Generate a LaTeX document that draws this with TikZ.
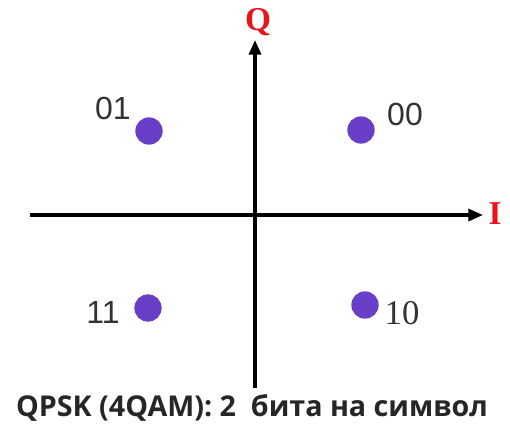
\documentclass[tikz,border=0pt]{standalone}
\usepackage{fontspec}
\setmainfont{Liberation Sans}
\newfontfamily\serifA{Liberation Serif}
\newfontfamily\capfont{Open Sans}
\usetikzlibrary{arrows.meta}
\definecolor{dotc}{HTML}{6A3FC8}
\definecolor{labc}{HTML}{333333}
\definecolor{axred}{HTML}{E8141C}
\tikzset{
  axis/.style={line width=2.4pt, -{Triangle[length=11pt,width=9pt]}},
  pt/.style={circle, fill=dotc, minimum size=20.5pt, inner sep=0pt},
  lab/.style={text=labc, font=\fontsize{24}{26}\selectfont, inner sep=0pt},
  axlab/.style={text=axred, font=\serifA\bfseries\fontsize{25}{27}\selectfont, inner sep=0pt}
}
\begin{document}
\begin{tikzpicture}[x=0.75pt,y=-0.75pt]
\useasboundingbox (0,0) rectangle (510,425);
\coordinate (hl) at (30,215);
\coordinate (hr) at (483,215);
\coordinate (vb) at (255,388);
\coordinate (vt) at (255,40);
\draw[axis] (hl) -- (hr);
\draw[axis] (vb) -- (vt);
\node[axlab] (Q) at (258,22) {Q};
\node[axlab] (I) at (495,214) {I};
\node[pt] (p01) at (149,131) {};
\node[pt] (p00) at (361,130) {};
\node[pt] (p11) at (148,308) {};
\node[pt] (p10) at (365,305) {};
\node[lab] (l01) at (113,108) {01};
\node[lab] (l00) at (405,114) {00};
\node[lab] (l11) at (103,312) {11};
\node[lab, font=\serifA\fontsize{26}{28}\selectfont] (l10) at (402,313) {10};
\node[inner sep=0pt, text=black!85, font=\capfont\bfseries\fontsize{21.5}{23}\selectfont] (cap) at (252,408) {QPSK (4QAM): 2\ \ бита на символ};
\end{tikzpicture}
\end{document}
